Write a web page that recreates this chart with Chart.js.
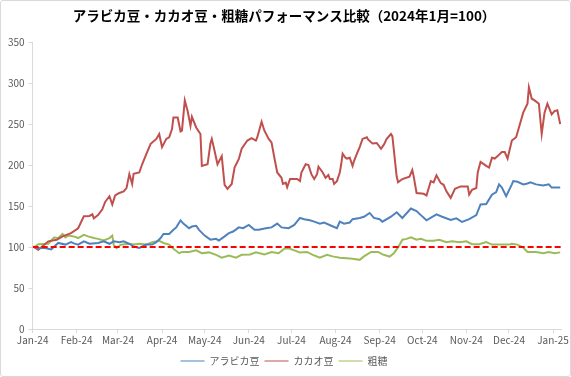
<!DOCTYPE html>
<html>
<head>
<meta charset="utf-8">
<script src="https://cdn.jsdelivr.net/npm/chart.js@4.4.1/dist/chart.umd.min.js"></script>
<style>
  html, body { margin: 0; padding: 0; background: #fff; }
  #wrap { width: 571px; height: 377px; box-sizing: border-box; border: 1px solid #d9d9d9; border-radius: 3px; position: relative; }
</style>
</head>
<body>
<div id="wrap"><canvas id="myLineChart"></canvas></div>
<script>
// tick labels on the x axis (month starts)
var tickDates = ['2024-01-01', '2024-02-01', '2024-03-01', '2024-04-01', '2024-05-01', '2024-06-01', '2024-07-01',
    '2024-08-01', '2024-09-01', '2024-10-01', '2024-11-01', '2024-12-01', '2025-01-01'];
var tickLabels = ['Jan-24', 'Feb-24', 'Mar-24', 'Apr-24', 'May-24', 'Jun-24', 'Jul-24',
    'Aug-24', 'Sep-24', 'Oct-24', 'Nov-24', 'Dec-24', 'Jan-25'];
var yTicks = [0, 50, 100, 150, 200, 250, 300, 350];
var seriesNames = ['アラビカ豆', 'カカオ豆', '粗糖'];
var baseValue = 100;

var arabicaDates = ['2024-01-02', '2024-01-05', '2024-01-09', '2024-01-14', '2024-01-19', '2024-01-24', '2024-01-28', '2024-01-30',
    '2024-02-02', '2024-02-06', '2024-02-10', '2024-02-16', '2024-02-20', '2024-02-24', '2024-02-27', '2024-03-02', '2024-03-05',
    '2024-03-09', '2024-03-12', '2024-03-16', '2024-03-21', '2024-03-25', '2024-03-28', '2024-03-31', '2024-04-02', '2024-04-06',
    '2024-04-09', '2024-04-11', '2024-04-14', '2024-04-16', '2024-04-20', '2024-04-22', '2024-04-25', '2024-04-27', '2024-05-01',
    '2024-05-05', '2024-05-09', '2024-05-11', '2024-05-15', '2024-05-18', '2024-05-21', '2024-05-25', '2024-05-28', '2024-06-01',
    '2024-06-05', '2024-06-08', '2024-06-13', '2024-06-17', '2024-06-21', '2024-06-24', '2024-06-29', '2024-07-03', '2024-07-07',
    '2024-07-10', '2024-07-14', '2024-07-17', '2024-07-21', '2024-07-24', '2024-07-29', '2024-08-02', '2024-08-04', '2024-08-07',
    '2024-08-11', '2024-08-13', '2024-08-18', '2024-08-21', '2024-08-25', '2024-08-28', '2024-09-01', '2024-09-03', '2024-09-09',
    '2024-09-13', '2024-09-17', '2024-09-23', '2024-09-27', '2024-09-30', '2024-10-04', '2024-10-11', '2024-10-15', '2024-10-21',
    '2024-10-25', '2024-10-29', '2024-11-03', '2024-11-08', '2024-11-11', '2024-11-15', '2024-11-19', '2024-11-22', '2024-11-24',
    '2024-11-26', '2024-11-29', '2024-12-03', '2024-12-04', '2024-12-07', '2024-12-11', '2024-12-14', '2024-12-16', '2024-12-20',
    '2024-12-25', '2024-12-29', '2024-12-31', '2025-01-06'];
var arabicaValues = [100, 98.5, 99, 97, 105, 103, 106, 104.5,
    103, 107, 104, 105, 107, 104, 107, 106, 107,
    104, 100.7, 99, 103, 103, 106, 111, 116, 116,
    121, 124, 132.6, 128.6, 123, 125, 126, 121, 114,
    109, 110, 108, 113, 117, 119, 124, 123, 127,
    121, 121, 123, 124, 128.6, 124, 123, 127, 135.5,
    134, 132.6, 131, 128.6, 130, 126, 123, 131, 128.6,
    130, 134, 135.5, 137, 141.6, 135.5, 134, 131, 137,
    142.5, 135.5, 147, 144, 139, 132.6, 140, 137, 133,
    135, 130.6, 134, 139, 152, 152.6, 164, 167, 176.5,
    172.6, 162, 176.5, 180.5, 179.6, 176.5, 177.6, 179, 176.5,
    175, 176.5, 172.6, 172.6];

var cacaoDates = ['2024-01-02', '2024-01-05', '2024-01-12', '2024-01-18', '2024-01-22', '2024-01-28', '2024-02-02', '2024-02-06',
    '2024-02-10', '2024-02-12', '2024-02-13', '2024-02-16', '2024-02-19', '2024-02-21', '2024-02-24', '2024-02-26', '2024-02-28',
    '2024-03-02', '2024-03-05', '2024-03-07', '2024-03-09', '2024-03-11', '2024-03-12', '2024-03-16', '2024-03-18', '2024-03-21',
    '2024-03-24', '2024-03-28', '2024-03-30', '2024-04-01', '2024-04-04', '2024-04-06', '2024-04-08', '2024-04-09', '2024-04-12',
    '2024-04-14', '2024-04-15', '2024-04-17', '2024-04-19', '2024-04-21', '2024-04-22', '2024-04-25', '2024-04-28', '2024-04-29',
    '2024-05-03', '2024-05-05', '2024-05-06', '2024-05-08', '2024-05-10', '2024-05-13', '2024-05-14', '2024-05-15', '2024-05-17',
    '2024-05-20', '2024-05-22', '2024-05-25', '2024-05-27', '2024-05-31', '2024-06-03', '2024-06-06', '2024-06-07', '2024-06-10',
    '2024-06-12', '2024-06-15', '2024-06-17', '2024-06-19', '2024-06-21', '2024-06-24', '2024-06-25', '2024-06-27', '2024-06-28',
    '2024-06-30', '2024-07-05', '2024-07-07', '2024-07-08', '2024-07-11', '2024-07-13', '2024-07-15', '2024-07-17', '2024-07-19',
    '2024-07-20', '2024-07-23', '2024-07-25', '2024-07-27', '2024-07-28', '2024-07-30', '2024-07-31', '2024-08-02', '2024-08-04',
    '2024-08-05', '2024-08-06', '2024-08-08', '2024-08-09', '2024-08-11', '2024-08-13', '2024-08-14', '2024-08-16', '2024-08-18',
    '2024-08-20', '2024-08-23', '2024-08-24', '2024-08-27', '2024-08-30', '2024-09-02', '2024-09-04', '2024-09-06', '2024-09-09',
    '2024-09-10', '2024-09-13', '2024-09-14', '2024-09-17', '2024-09-22', '2024-09-24', '2024-09-25', '2024-09-27', '2024-10-02',
    '2024-10-04', '2024-10-07', '2024-10-09', '2024-10-11', '2024-10-14', '2024-10-16', '2024-10-18', '2024-10-21', '2024-10-24',
    '2024-10-28', '2024-11-02', '2024-11-03', '2024-11-05', '2024-11-08', '2024-11-09', '2024-11-11', '2024-11-15', '2024-11-17',
    '2024-11-19', '2024-11-21', '2024-11-23', '2024-11-26', '2024-11-28', '2024-11-30', '2024-12-03', '2024-12-06', '2024-12-08',
    '2024-12-11', '2024-12-14', '2024-12-15', '2024-12-17', '2024-12-19', '2024-12-22', '2024-12-24', '2024-12-26', '2024-12-28',
    '2024-12-31', '2025-01-02', '2025-01-04', '2025-01-06'];
var cacaoValues = [100, 96.6, 107, 109, 113, 117, 123, 137.5,
    138, 140, 135, 139, 146, 155, 162, 152, 163,
    166, 168, 172, 189, 177, 189.5, 191, 201, 213.7,
    226, 232, 238, 222, 232, 234, 244, 258, 258,
    241, 242, 279, 266, 248, 259, 246, 238, 199,
    201, 226, 232, 217, 201, 211, 193, 176, 171,
    177, 197, 207.5, 220, 230, 233, 230, 234, 253,
    242, 232, 227.6, 209, 191, 184.5, 177, 178.5, 173,
    183, 183, 180.5, 191, 201, 200, 189, 183, 189,
    198, 191, 184.6, 188, 183, 183, 177, 180.5, 191,
    201, 214, 209, 208, 209, 199, 205, 213.7, 222,
    232, 234, 231, 226.5, 227, 220, 225, 232, 238,
    235, 186, 179, 183, 186, 194, 186, 166, 165,
    163, 180.5, 179, 187.5, 178, 176, 168, 160, 171,
    174, 174, 164, 170, 172, 191, 204, 199, 197,
    209, 208, 211, 216, 216, 208, 230, 234, 246,
    264, 275, 295, 281, 279, 275, 238, 264, 275,
    262, 266, 267, 250];

var sugarDates = ['2024-01-02', '2024-01-05', '2024-01-12', '2024-01-16', '2024-01-19', '2024-01-22', '2024-01-24', '2024-01-26',
    '2024-01-30', '2024-02-02', '2024-02-06', '2024-02-09', '2024-02-13', '2024-02-16', '2024-02-20', '2024-02-24', '2024-02-26',
    '2024-02-27', '2024-02-29', '2024-03-03', '2024-03-09', '2024-03-12', '2024-03-16', '2024-03-21', '2024-03-25', '2024-03-30',
    '2024-04-02', '2024-04-06', '2024-04-09', '2024-04-13', '2024-04-15', '2024-04-20', '2024-04-25', '2024-04-29', '2024-05-04',
    '2024-05-09', '2024-05-13', '2024-05-18', '2024-05-23', '2024-05-27', '2024-06-02', '2024-06-06', '2024-06-12', '2024-06-17',
    '2024-06-22', '2024-06-26', '2024-06-29', '2024-07-03', '2024-07-07', '2024-07-12', '2024-07-16', '2024-07-21', '2024-07-26',
    '2024-07-30', '2024-08-04', '2024-08-09', '2024-08-13', '2024-08-18', '2024-08-21', '2024-08-26', '2024-08-31', '2024-09-03',
    '2024-09-08', '2024-09-11', '2024-09-14', '2024-09-17', '2024-09-20', '2024-09-23', '2024-09-27', '2024-09-30', '2024-10-04',
    '2024-10-09', '2024-10-13', '2024-10-18', '2024-10-22', '2024-10-27', '2024-11-01', '2024-11-05', '2024-11-10', '2024-11-15',
    '2024-11-19', '2024-11-26', '2024-12-01', '2024-12-03', '2024-12-07', '2024-12-11', '2024-12-14', '2024-12-20', '2024-12-25',
    '2024-12-29', '2025-01-02', '2025-01-06'];
var sugarValues = [100, 103.5, 104, 111.7, 111, 116, 111.7, 114,
    113, 111, 115, 113, 111, 110, 108, 111, 114,
    102.8, 98.6, 102.8, 104, 103, 104, 103, 106, 107.6,
    105, 103, 98, 92.5, 94, 94, 96, 92.5, 93.5,
    90.5, 87, 89.7, 87, 90.5, 91, 93.5, 91, 94,
    92.5, 98, 98.6, 96, 93.5, 94, 90.5, 87, 90.5,
    88.6, 87, 86.4, 85.6, 84.4, 88.6, 94, 94, 91,
    88.4, 92.5, 99.5, 109, 110, 112, 109, 110, 107.6,
    107.6, 109, 106, 107, 106, 107, 103.5, 103.5, 106,
    103, 103, 103, 104, 103, 99.5, 94, 94, 92.5,
    94, 92.5, 93.5];

var endDate = '2025-01-07';

function dayOf(s) {
    var p = s.split('-').map(Number);
    return (Date.UTC(p[0], p[1] - 1, p[2]) - Date.UTC(2024, 0, 1)) / 86400000;
}
function toPoints(dates, values) {
    return dates.map(function (d, i) { return { x: dayOf(d), y: values[i] }; });
}

document.addEventListener('DOMContentLoaded', function () {
    var jp = '"Noto Sans CJK JP", "Liberation Sans", sans-serif';
    Chart.defaults.font.family = jp;
    Chart.defaults.color = '#595959';
    var ctx = document.getElementById('myLineChart').getContext('2d');
    var xMax = dayOf(endDate);
    new Chart(ctx, {
        type: 'line',
        data: {
            datasets: [{
                label: 'base',
                data: [{ x: 0, y: baseValue }, { x: xMax, y: baseValue }],
                borderColor: '#FF0000',
                borderDash: [6, 3],
                borderWidth: 2
            }, {
                label: seriesNames[0],
                data: toPoints(arabicaDates, arabicaValues),
                borderColor: '#4F81BD',
                backgroundColor: '#4F81BD'
            }, {
                label: seriesNames[1],
                data: toPoints(cacaoDates, cacaoValues),
                borderColor: '#C0504D',
                backgroundColor: '#C0504D'
            }, {
                label: seriesNames[2],
                data: toPoints(sugarDates, sugarValues),
                borderColor: '#9BBB59',
                backgroundColor: '#9BBB59'
            }]
        },
        options: {
            responsive: true,
            maintainAspectRatio: false,
            animation: false,
            elements: {
                point: { radius: 0 },
                line: { borderWidth: 2, tension: 0 }
            },
            layout: { padding: { left: 3, right: 6, top: 5, bottom: 0 } },
            plugins: {
                title: {
                    display: true,
                    text: 'アラビカ豆・カカオ豆・粗糖パフォーマンス比較（2024年1月=100）',
                    color: '#000',
                    font: { size: 13.5, weight: 'bold' },
                    padding: { top: 2, bottom: 18 }
                },
                legend: {
                    position: 'bottom',
                    labels: {
                        filter: function (item) { return item.datasetIndex > 0; },
                        usePointStyle: true,
                        pointStyle: 'line',
                        pointStyleWidth: 24,
                        boxHeight: 9,
                        font: { size: 10 },
                        padding: 5
                    }
                },
                tooltip: { enabled: false }
            },
            scales: {
                x: {
                    type: 'linear',
                    min: 0,
                    max: xMax,
                    afterBuildTicks: function (scale) {
                        scale.ticks = tickDates.map(function (d) { return { value: dayOf(d) }; });
                    },
                    afterFit: function (scale) { scale.height += 4; },
                    ticks: {
                        autoSkip: false,
                        maxRotation: 0,
                        font: { size: 10 },
                        padding: 1,
                        callback: function (v, i) { return tickLabels[i]; }
                    },
                    grid: { drawOnChartArea: false, color: '#d9d9d9', tickLength: 4 },
                    border: { color: '#d9d9d9' }
                },
                y: {
                    min: 0,
                    max: 350,
                    afterBuildTicks: function (scale) {
                        scale.ticks = yTicks.map(function (v) { return { value: v }; });
                    },
                    ticks: { font: { size: 10 }, padding: 4 },
                    grid: { drawOnChartArea: false, color: '#d9d9d9', tickLength: 4 },
                    border: { color: '#d9d9d9' }
                }
            }
        }
    });
});
</script>
</body>
</html>
